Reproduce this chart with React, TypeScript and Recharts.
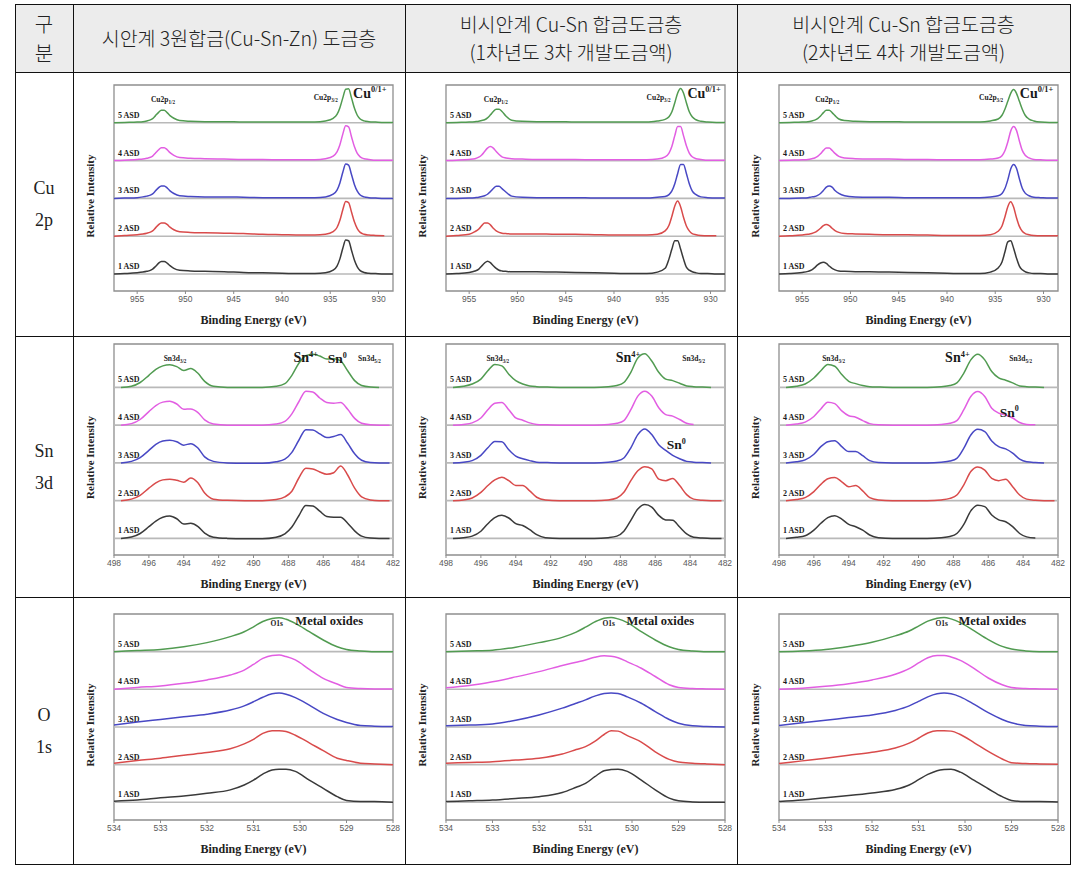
import React from 'react';
import { LineChart, Line, XAxis, YAxis, ReferenceLine, ReferenceArea, ReferenceDot } from 'recharts';

// ---------------- table text ----------------
const cornerLabel = ['구', '분'];
const columnHeaders = [
  ['시안계 3원합금(Cu-Sn-Zn) 도금층'],
  ['비시안계 Cu-Sn 합금도금층', '(1차년도 3차 개발도금액)'],
  ['비시안계 Cu-Sn 합금도금층', '(2차년도 4차 개발도금액)'],
];
const rowLabels = [['Cu', '2p'], ['Sn', '3d'], ['O', '1s']];

// ---------------- series labels ----------------
const asdLabels = ['1 ASD', '2 ASD', '3 ASD', '4 ASD', '5 ASD'];
const asdColors = ['#3a3a3a', '#d94b4b', '#4848c4', '#e25ee2', '#519b51'];

// ---------------- Cu 2p ----------------
const cuEnergy = [957.4, 956.3, 955.0, 954.4, 954.0, 953.7, 953.4, 953.1, 952.8, 952.5, 952.2, 951.9, 951.6, 951.2, 950.6, 949.5, 948, 946, 944, 942, 940, 938, 936.6, 935.5, 934.7, 934.3, 934.0, 933.7, 933.4, 933.1, 932.8, 932.5, 932.2, 931.9, 931.5, 931.0, 930.3, 929.4, 928.5];
const cuTicks = [955, 950, 945, 940, 935, 930];
const cuDomain = [928.5, 957.4];

const cuTernary = [
  [0, 0.01, 0.03, 0.05, 0.07, 0.09, 0.13, 0.2, 0.28, 0.33, 0.33, 0.29, 0.22, 0.15, 0.1, 0.08, 0.07, 0.06, 0.04, 0.03, 0.02, 0.01, 0.01, 0.03, 0.1, 0.21, 0.4, 0.68, 0.9, 0.88, 0.63, 0.37, 0.19, 0.09, 0.04, 0.02, 0.01, 0.0, 0.0],
  [0, 0.02, 0.04, 0.06, 0.08, 0.1, 0.14, 0.22, 0.3, 0.35, 0.35, 0.31, 0.24, 0.17, 0.12, 0.1, 0.09, 0.08, 0.07, 0.05, 0.04, 0.03, 0.03, 0.05, 0.12, 0.23, 0.42, 0.7, 0.92, 0.89, 0.64, 0.38, 0.2, 0.1, 0.05, 0.03, 0.02, 0.01, null],
  [0, 0.01, 0.02, 0.04, 0.06, 0.08, 0.12, 0.2, 0.28, 0.33, 0.33, 0.28, 0.2, 0.13, 0.07, 0.05, 0.04, 0.04, 0.03, 0.02, 0.02, 0.02, 0.02, 0.04, 0.11, 0.22, 0.41, 0.69, 0.91, 0.88, 0.63, 0.37, 0.19, 0.09, 0.04, 0.02, 0.01, 0.0, 0.0],
  [0, 0.01, 0.03, 0.04, 0.06, 0.08, 0.12, 0.2, 0.28, 0.34, 0.34, 0.29, 0.21, 0.14, 0.08, 0.06, 0.05, 0.04, 0.03, 0.03, 0.02, 0.02, 0.02, 0.05, 0.12, 0.23, 0.42, 0.7, 0.92, 0.89, 0.63, 0.37, 0.19, 0.1, 0.05, 0.03, 0.01, 0.01, 0.01],
  [0, 0.01, 0.02, 0.03, 0.05, 0.07, 0.11, 0.19, 0.27, 0.33, 0.33, 0.27, 0.19, 0.12, 0.06, 0.04, 0.03, 0.03, 0.02, 0.02, 0.02, 0.02, 0.02, 0.05, 0.12, 0.22, 0.4, 0.66, 0.89, 0.9, 0.66, 0.39, 0.2, 0.1, 0.05, 0.03, 0.02, 0.01, 0.01],
];
const cuNonCyanide1 = [
  [0, 0.01, 0.04, 0.08, 0.13, 0.21, 0.29, 0.34, 0.3, 0.22, 0.15, 0.1, 0.08, 0.07, 0.06, 0.06, 0.06, 0.05, 0.04, 0.03, 0.02, 0.01, 0.01, 0.05, 0.15, 0.4, 0.66, 0.88, 0.88, 0.66, 0.4, 0.18, 0.1, 0.06, 0.03, 0.01, 0.01, 0.0, 0.0],
  [0, 0.02, 0.05, 0.12, 0.19, 0.28, 0.35, 0.35, 0.3, 0.21, 0.14, 0.1, 0.08, 0.07, 0.06, 0.06, 0.06, 0.05, 0.05, 0.04, 0.03, 0.03, 0.03, 0.05, 0.14, 0.29, 0.53, 0.8, 0.93, 0.78, 0.5, 0.27, 0.14, 0.07, 0.04, 0.02, 0.01, 0.01, null],
  [0, 0.0, 0.01, 0.02, 0.03, 0.05, 0.07, 0.11, 0.18, 0.26, 0.32, 0.32, 0.26, 0.17, 0.06, 0.03, 0.02, 0.02, 0.02, 0.01, 0.01, 0.01, 0.01, 0.03, 0.05, 0.1, 0.2, 0.39, 0.66, 0.9, 0.9, 0.66, 0.39, 0.2, 0.1, 0.04, 0.02, 0.01, 0.01],
  [0, 0.01, 0.03, 0.05, 0.09, 0.15, 0.24, 0.33, 0.37, 0.33, 0.24, 0.16, 0.1, 0.07, 0.05, 0.04, 0.03, 0.03, 0.03, 0.02, 0.02, 0.02, 0.02, 0.04, 0.1, 0.2, 0.38, 0.66, 0.9, 0.9, 0.66, 0.39, 0.2, 0.1, 0.05, 0.03, 0.01, 0.01, 0.01],
  [0, 0.01, 0.02, 0.03, 0.04, 0.06, 0.08, 0.13, 0.21, 0.3, 0.36, 0.36, 0.3, 0.18, 0.07, 0.04, 0.03, 0.03, 0.02, 0.02, 0.02, 0.02, 0.02, 0.05, 0.09, 0.16, 0.29, 0.53, 0.79, 0.91, 0.79, 0.53, 0.29, 0.16, 0.08, 0.04, 0.02, 0.01, 0.01],
];
const cuNonCyanide2 = [
  [0, 0.01, 0.04, 0.07, 0.11, 0.17, 0.24, 0.29, 0.31, 0.28, 0.21, 0.15, 0.11, 0.08, 0.07, 0.06, 0.06, 0.05, 0.04, 0.03, 0.02, 0.01, 0.01, 0.05, 0.16, 0.32, 0.58, 0.85, 0.88, 0.68, 0.42, 0.21, 0.11, 0.06, 0.03, 0.01, 0.01, 0.0, 0.0],
  [0, 0.01, 0.03, 0.05, 0.07, 0.1, 0.15, 0.21, 0.28, 0.31, 0.28, 0.21, 0.15, 0.1, 0.07, 0.06, 0.05, 0.04, 0.04, 0.03, 0.02, 0.02, 0.02, 0.04, 0.13, 0.27, 0.51, 0.78, 0.91, 0.77, 0.49, 0.26, 0.13, 0.07, 0.04, 0.02, 0.01, 0.01, 0.01],
  [0, 0.0, 0.01, 0.02, 0.04, 0.05, 0.08, 0.13, 0.21, 0.3, 0.33, 0.3, 0.21, 0.13, 0.07, 0.04, 0.03, 0.03, 0.02, 0.02, 0.02, 0.02, 0.02, 0.04, 0.07, 0.13, 0.26, 0.49, 0.78, 0.9, 0.8, 0.52, 0.27, 0.14, 0.07, 0.03, 0.02, 0.01, 0.01],
  [0, 0.01, 0.02, 0.03, 0.05, 0.07, 0.11, 0.18, 0.27, 0.33, 0.33, 0.27, 0.19, 0.11, 0.07, 0.05, 0.04, 0.04, 0.03, 0.03, 0.02, 0.02, 0.02, 0.04, 0.07, 0.13, 0.26, 0.49, 0.78, 0.9, 0.8, 0.52, 0.27, 0.14, 0.07, 0.03, 0.02, 0.01, 0.01],
  [0, 0.01, 0.02, 0.03, 0.05, 0.07, 0.11, 0.18, 0.27, 0.33, 0.33, 0.27, 0.19, 0.1, 0.06, 0.04, 0.03, 0.03, 0.02, 0.02, 0.02, 0.02, 0.02, 0.05, 0.1, 0.2, 0.36, 0.57, 0.78, 0.88, 0.78, 0.57, 0.36, 0.2, 0.1, 0.05, 0.02, 0.01, 0.01],
];

// ---------------- Sn 3d ----------------
const snEnergy = [497.6, 497, 496.5, 496, 495.6, 495.2, 494.8, 494.4, 494.0, 493.6, 493.2, 492.8, 492.3, 491.5, 490.5, 489.5, 488.7, 488.2, 487.8, 487.4, 487.0, 486.6, 486.2, 485.8, 485.4, 485.0, 484.6, 484.2, 483.8, 483.3, 482.8, 482.2];
const snTicks = [498, 496, 494, 492, 490, 488, 486, 484, 482];
const snDomain = [482, 498];

const snTernary = [
  [0, 0.035, 0.13, 0.31, 0.46, 0.56, 0.59, 0.52, 0.38, 0.4, 0.32, 0.14, 0.03, 0, -0.01, -0.01, 0.03, 0.12, 0.3, 0.6, 0.87, 0.86, 0.72, 0.58, 0.56, 0.56, 0.4, 0.2, 0.06, 0.01, 0, 0],
  [0, 0.04, 0.14, 0.33, 0.47, 0.55, 0.57, 0.54, 0.49, 0.6, 0.48, 0.2, 0.04, 0.01, 0, 0, 0.03, 0.1, 0.25, 0.6, 0.86, 0.84, 0.76, 0.7, 0.74, 0.92, 0.68, 0.33, 0.1, 0.02, 0, 0],
  [0, 0.04, 0.14, 0.33, 0.49, 0.58, 0.6, 0.56, 0.47, 0.51, 0.4, 0.16, 0.04, 0, -0.01, -0.01, 0.03, 0.1, 0.28, 0.6, 0.88, 0.87, 0.77, 0.67, 0.7, 0.75, 0.52, 0.24, 0.07, 0.01, 0, 0],
  [0, 0.04, 0.15, 0.36, 0.52, 0.61, 0.63, 0.56, 0.42, 0.43, 0.34, 0.14, 0.03, 0, 0, 0, 0.03, 0.1, 0.3, 0.62, 0.9, 0.88, 0.72, 0.6, 0.58, 0.6, 0.42, 0.18, 0.05, 0.01, 0, 0],
  [0, 0.03, 0.13, 0.32, 0.48, 0.57, 0.6, 0.55, 0.45, 0.5, 0.38, 0.16, 0.03, 0, 0, 0, 0.03, 0.1, 0.32, 0.64, 0.84, 0.88, 0.83, 0.75, 0.76, 0.7, 0.44, 0.18, 0.05, 0.01, 0, null],
];
const snNonCyanide1 = [
  [0, 0.02, 0.06, 0.19, 0.39, 0.55, 0.61, 0.54, 0.39, 0.34, 0.23, 0.1, 0.02, 0, 0, 0, 0.02, 0.06, 0.19, 0.48, 0.78, 0.9, 0.83, 0.61, 0.49, 0.48, 0.3, 0.12, 0.03, 0.01, 0, 0],
  [0, 0.02, 0.07, 0.22, 0.4, 0.55, 0.62, 0.53, 0.4, 0.4, 0.26, 0.09, 0.02, 0, 0, 0, 0.02, 0.07, 0.22, 0.53, 0.79, 0.9, 0.84, 0.57, 0.53, 0.59, 0.4, 0.16, 0.04, 0.01, 0, 0],
  [0, 0.02, 0.06, 0.2, 0.4, 0.57, 0.56, 0.35, 0.18, 0.11, 0.06, 0.02, 0.01, 0, 0, 0, 0.02, 0.05, 0.13, 0.4, 0.75, 0.9, 0.75, 0.48, 0.33, 0.2, 0.11, 0.04, 0.02, 0.01, 0, null],
  [0, 0.02, 0.06, 0.19, 0.41, 0.58, 0.6, 0.41, 0.19, 0.13, 0.06, 0.02, 0.01, 0, 0, 0, 0.02, 0.05, 0.12, 0.41, 0.77, 0.9, 0.77, 0.46, 0.28, 0.24, 0.15, 0.05, 0.02, null, null, null],
  [0, 0.03, 0.09, 0.22, 0.44, 0.61, 0.57, 0.35, 0.18, 0.09, 0.04, 0.02, 0.01, 0, 0, 0, 0.02, 0.05, 0.13, 0.4, 0.78, 0.89, 0.7, 0.4, 0.22, 0.18, 0.11, 0.04, 0.02, 0.01, 0, null],
];
const snNonCyanide2 = [
  [0, 0.03, 0.07, 0.22, 0.4, 0.55, 0.6, 0.51, 0.37, 0.31, 0.22, 0.09, 0.02, 0, 0, 0, 0.02, 0.05, 0.13, 0.37, 0.73, 0.88, 0.84, 0.62, 0.49, 0.44, 0.31, 0.13, 0.04, 0.01, null, null],
  [0, 0.03, 0.08, 0.24, 0.43, 0.58, 0.61, 0.5, 0.37, 0.4, 0.26, 0.08, 0.02, 0, 0, 0, 0.02, 0.06, 0.15, 0.42, 0.77, 0.89, 0.81, 0.59, 0.53, 0.57, 0.37, 0.15, 0.04, 0.01, 0, 0],
  [0, 0.03, 0.08, 0.23, 0.43, 0.56, 0.59, 0.43, 0.3, 0.3, 0.19, 0.06, 0.01, 0, 0, 0, 0.02, 0.05, 0.12, 0.39, 0.74, 0.89, 0.83, 0.58, 0.43, 0.37, 0.26, 0.1, 0.03, 0.01, 0, null],
  [0, 0.03, 0.08, 0.23, 0.43, 0.61, 0.57, 0.38, 0.25, 0.21, 0.12, 0.04, 0.01, 0, 0, 0, 0.02, 0.05, 0.12, 0.41, 0.76, 0.89, 0.76, 0.45, 0.32, 0.27, 0.19, 0.07, 0.02, 0.01, null, null],
  [0, 0.03, 0.09, 0.25, 0.44, 0.61, 0.56, 0.34, 0.16, 0.1, 0.05, 0.02, 0.01, 0, 0, 0, 0.02, 0.05, 0.12, 0.38, 0.73, 0.88, 0.73, 0.42, 0.25, 0.19, 0.12, 0.04, 0.02, 0.01, 0, null],
];

// ---------------- O 1s ----------------
const oEnergy = [534, 533.5, 533, 532.5, 532, 531.5, 531.2, 531, 530.8, 530.6, 530.45, 530.3, 530.1, 529.8, 529.5, 529.2, 529, 528.7, 528.4, 528];
const oTicks = [534, 533, 532, 531, 530, 529, 528];
const oDomain = [528, 534];

const oTernary = [
  [0.03, 0.06, 0.12, 0.17, 0.24, 0.33, 0.46, 0.59, 0.75, 0.86, 0.88, 0.88, 0.82, 0.59, 0.37, 0.15, 0.05, 0.02, 0.02, 0],
  [0.04, 0.11, 0.17, 0.25, 0.32, 0.42, 0.55, 0.67, 0.83, 0.9, 0.9, 0.88, 0.78, 0.58, 0.37, 0.17, 0.11, 0.04, 0.02, 0],
  [0.05, 0.13, 0.2, 0.27, 0.34, 0.45, 0.56, 0.67, 0.79, 0.88, 0.9, 0.87, 0.78, 0.58, 0.36, 0.2, 0.12, 0.04, 0.02, 0.01],
  [0, 0.05, 0.09, 0.16, 0.25, 0.38, 0.51, 0.66, 0.82, 0.9, 0.91, 0.87, 0.78, 0.53, 0.29, 0.14, 0.05, 0.02, 0.01, 0.01],
  [0, 0.03, 0.06, 0.13, 0.24, 0.4, 0.53, 0.66, 0.8, 0.88, 0.9, 0.86, 0.75, 0.53, 0.31, 0.13, 0.06, 0.02, 0, 0],
];
const oNonCyanide1 = [
  [0.02, 0.04, 0.06, 0.1, 0.15, 0.26, 0.4, 0.5, 0.68, 0.84, 0.87, 0.88, 0.82, 0.59, 0.33, 0.11, 0.04, 0.01, 0, 0],
  [0.04, 0.06, 0.08, 0.12, 0.17, 0.28, 0.4, 0.48, 0.62, 0.8, 0.9, 0.89, 0.77, 0.6, 0.34, 0.14, 0.07, 0.04, 0.02, 0],
  [0.03, 0.05, 0.08, 0.18, 0.32, 0.5, 0.63, 0.72, 0.82, 0.89, 0.9, 0.89, 0.8, 0.63, 0.41, 0.2, 0.1, 0.03, 0.01, 0],
  [0.04, 0.1, 0.2, 0.33, 0.47, 0.63, 0.72, 0.78, 0.85, 0.89, 0.88, 0.84, 0.73, 0.56, 0.34, 0.12, 0.05, 0.02, 0.01, 0],
  [0, 0.02, 0.04, 0.12, 0.24, 0.38, 0.52, 0.65, 0.79, 0.89, 0.91, 0.87, 0.77, 0.53, 0.31, 0.13, 0.06, 0.02, 0, 0],
];
const oNonCyanide2 = [
  [0.02, 0.06, 0.12, 0.18, 0.25, 0.34, 0.46, 0.6, 0.74, 0.84, 0.87, 0.88, 0.8, 0.58, 0.36, 0.15, 0.05, 0.02, 0.02, 0.01],
  [0.03, 0.1, 0.17, 0.25, 0.33, 0.44, 0.57, 0.7, 0.84, 0.9, 0.9, 0.89, 0.8, 0.58, 0.35, 0.15, 0.05, 0.03, 0.02, 0.01],
  [0.04, 0.11, 0.18, 0.25, 0.32, 0.44, 0.56, 0.68, 0.8, 0.88, 0.9, 0.88, 0.8, 0.6, 0.38, 0.2, 0.11, 0.04, 0.02, 0.01],
  [0, 0.03, 0.08, 0.15, 0.25, 0.4, 0.55, 0.7, 0.84, 0.9, 0.9, 0.86, 0.77, 0.55, 0.3, 0.12, 0.05, 0.02, 0.01, 0],
  [0, 0.02, 0.06, 0.14, 0.25, 0.42, 0.55, 0.68, 0.81, 0.89, 0.91, 0.87, 0.77, 0.55, 0.32, 0.14, 0.07, 0.02, 0, 0],
];

// ---------------- annotations (data coordinates) ----------------
const cuNotes = [
  [952.33, 935.47, 932.64],
  [952.24, 935.38, 932.39],
  [952.41, 935.43, 932.45],
];
const snNotes = [
  { d32: 494.5, s4: 487.0, d52: 483.35, s0: 485.2, s0y: 4.64 },
  { d32: 495.03, s4: 487.56, d52: 483.8, s0: 484.8, s0y: 2.36 },
  { d32: 494.87, s4: 487.77, d52: 484.14, s0: 484.8, s0y: 3.22 },
];
const oNotes = [
  [530.5, 530.1],
  [530.5, 530.12],
  [530.5, 530.14],
];

// ---------------- rendering ----------------
const serif = "'Liberation Serif', 'Times New Roman', serif";
const tableFont = "'Noto Sans CJK KR', 'Liberation Sans', sans-serif";

type Note = { e: number; y: number; text: string; sub?: string; sup?: string; size: number; anchor?: string };

function renderNote(p: any, n: Note) {
  return (
    <text x={p.cx} y={p.cy} textAnchor={n.anchor || 'middle'} fontFamily={serif} fontWeight="bold" fontSize={n.size} fill="#1a1a1a">
      {n.text}
      {n.sub ? <tspan fontSize={n.size * 0.68} dy={n.size * 0.28}>{n.sub}</tspan> : null}
      {n.sup ? <tspan fontSize={n.size * 0.6} dy={-n.size * 0.42}>{n.sup}</tspan> : null}
    </text>
  );
}

const xTitle = (props: any) => {
  const vb = props.viewBox || { x: 0, y: 0, width: 0, height: 0 };
  return (
    <text x={vb.x + vb.width / 2} y={vb.y + 28.5} textAnchor="middle" dominantBaseline="central" fontFamily={serif} fontWeight="bold" fontSize={12} fill="#222">
      Binding Energy (eV)
    </text>
  );
};

const yTitle = (props: any) => {
  const vb = props.viewBox || { x: 0, y: 0, width: 0, height: 0 };
  const x = vb.x + vb.width - 24;
  const y = vb.y + vb.height / 2 + 8;
  return (
    <text x={x} y={y} transform={`rotate(-90 ${x} ${y})`} textAnchor="middle" dominantBaseline="central" fontFamily={serif} fontWeight="bold" fontSize={11} fill="#222">
      Relative Intensity
    </text>
  );
};

const asdLabel = (name: string) => (props: any) => {
  const vb = props.viewBox || { x: 0, y: 0 };
  return (
    <text x={vb.x + 4} y={vb.y - 5} fontFamily={serif} fontWeight="bold" fontSize={8} fill="#1a1a1a">
      {name}
    </text>
  );
};

function Spectrum(props: any) {
  const { left, top, plotH, energies, series, domain, ticks, yDomain, notes } = props;
  const W = 333;
  const H = 10 + plotH + 18 + 24;
  const rows = energies.map((e: number, i: number) => {
    const row: any = { e };
    series.forEach((s: (number | null)[], k: number) => {
      const v = s[i];
      row['s' + k] = v == null ? null : v + k;
    });
    return row;
  });
  return (
    <div style={{ position: 'absolute', left, top, width: W, height: H }}>
      <LineChart width={W} height={H} data={rows} margin={{ top: 10, right: 10, bottom: 24, left: 0 }}>
        <XAxis
          type="number"
          dataKey="e"
          domain={domain}
          reversed
          ticks={ticks}
          interval={0}
          allowDataOverflow
          height={18}
          tickSize={3}
          axisLine={false}
          tickLine={{ stroke: '#8a8a8a' }}
          tick={{ fontSize: 8.5, fill: '#5a5a5a', fontFamily: "'Liberation Sans', Arial, sans-serif" }}
          label={xTitle}
        />
        <YAxis type="number" domain={yDomain} allowDataOverflow width={44} tick={false} tickLine={false} axisLine={false} label={yTitle} />
        <ReferenceArea x1={domain[0]} x2={domain[1]} y1={yDomain[0]} y2={yDomain[1]} fill="none" fillOpacity={0} stroke="#8f8f8f" strokeWidth={1.3} ifOverflow="visible" />
        {series.map((_: any, k: number) => (
          <ReferenceLine key={'b' + k} y={k} stroke="#b9b9b9" strokeWidth={1.6} label={asdLabel(asdLabels[k])} />
        ))}
        {series.map((_: any, k: number) => (
          <Line
            key={'s' + k}
            dataKey={'s' + k}
            stroke={asdColors[k]}
            strokeWidth={1.5}
            dot={false}
            activeDot={false}
            type="monotone"
            connectNulls={false}
            isAnimationActive={false}
          />
        ))}
        {notes.map((n: Note, i: number) => (
          <ReferenceDot key={'n' + i} x={n.e} y={n.y} r={0} ifOverflow="visible" shape={(p: any) => renderNote(p, n)} />
        ))}
      </LineChart>
    </div>
  );
}

const plotLefts = [114, 446, 779];
const rowPlotTops = [85, 344, 614];
const rowPlotHeights = [206, 211, 206];

export default function App() {
  const cuSets = [cuTernary, cuNonCyanide1, cuNonCyanide2];
  const snSets = [snTernary, snNonCyanide1, snNonCyanide2];
  const oSets = [oTernary, oNonCyanide1, oNonCyanide2];

  const panels: any[] = [];
  for (let c = 0; c < 3; c++) {
    const cn = cuNotes[c];
    panels.push({
      key: 'cu' + c, row: 0, col: c, energies: cuEnergy, series: cuSets[c], domain: cuDomain, ticks: cuTicks, yDomain: [-0.45, 5.0],
      notes: [
        { e: cn[0], y: 4.56, text: 'Cu2p', sub: '1/2', size: 7.5 },
        { e: cn[1], y: 4.6, text: 'Cu2p', sub: '3/2', size: 7.5 },
        { e: cn[2], y: 4.66, text: 'Cu', sup: '0/1+', size: 14, anchor: 'start' },
      ],
    });
    const sn = snNotes[c];
    panels.push({
      key: 'sn' + c, row: 1, col: c, energies: snEnergy, series: snSets[c], domain: snDomain, ticks: snTicks, yDomain: [-0.44, 5.15],
      notes: [
        { e: sn.d32, y: 4.71, text: 'Sn3d', sub: '3/2', size: 7.5 },
        { e: sn.s4, y: 4.66, text: 'Sn', sup: '4+', size: 14 },
        { e: sn.d52, y: 4.71, text: 'Sn3d', sub: '5/2', size: 7.5 },
        { e: sn.s0, y: sn.s0y, text: 'Sn', sup: '0', size: 13.5 },
      ],
    });
    const on = oNotes[c];
    panels.push({
      key: 'o' + c, row: 2, col: c, energies: oEnergy, series: oSets[c], domain: oDomain, ticks: oTicks, yDomain: [-0.47, 5.0],
      notes: [
        { e: on[0], y: 4.68, text: 'O1s', size: 7.5 },
        { e: on[1], y: 4.7, text: 'Metal oxides', size: 12.5, anchor: 'start' },
      ],
    });
  }

  const xs = [15, 73, 405, 737, 1070];
  const ys = [4, 72, 336, 597, 864];

  return (
    <div style={{ position: 'absolute', left: 0, top: 0, width: 1088, height: 870, background: '#fff', overflow: 'hidden' }}>
      {/* header background */}
      <div style={{ position: 'absolute', left: xs[0], top: ys[0], width: xs[4] - xs[0], height: ys[1] - ys[0], background: '#ececec' }} />

      {/* corner */}
      <div style={{ position: 'absolute', left: xs[0], top: ys[0], width: xs[1] - xs[0], height: ys[1] - ys[0], display: 'flex', flexDirection: 'column', justifyContent: 'center', alignItems: 'center', fontFamily: tableFont, fontSize: 20, lineHeight: '29px', color: '#222', fontWeight: 300 }}>
        {cornerLabel.map((t) => <div key={t}>{t}</div>)}
      </div>

      {/* column headers */}
      {columnHeaders.map((lines, c) => (
        <div key={'h' + c} style={{ position: 'absolute', left: xs[c + 1], top: ys[0], width: xs[c + 2] - xs[c + 1], height: ys[1] - ys[0], display: 'flex', flexDirection: 'column', justifyContent: 'center', alignItems: 'center', fontFamily: tableFont, fontSize: 19.5, lineHeight: '28px', color: '#222', fontWeight: 300, whiteSpace: 'nowrap' }}>
          {lines.map((t, i) => <div key={i}>{t}</div>)}
        </div>
      ))}

      {/* row labels */}
      {rowLabels.map((lines, r) => (
        <div key={'r' + r} style={{ position: 'absolute', left: xs[0], top: ys[r + 1], width: xs[1] - xs[0], height: ys[r + 2] - ys[r + 1], display: 'flex', flexDirection: 'column', justifyContent: 'center', alignItems: 'center', fontFamily: serif, fontSize: 18, lineHeight: '32px', color: '#222' }}>
          {lines.map((t, i) => <div key={i}>{t}</div>)}
        </div>
      ))}

      {/* charts */}
      {panels.map((p) => (
        <Spectrum
          key={p.key}
          left={plotLefts[p.col] - 44}
          top={rowPlotTops[p.row] - 10}
          plotH={rowPlotHeights[p.row]}
          energies={p.energies}
          series={p.series}
          domain={p.domain}
          ticks={p.ticks}
          yDomain={p.yDomain}
          notes={p.notes}
        />
      ))}

      {/* table rules */}
      {ys.map((y, i) => (
        <div key={'hy' + i} style={{ position: 'absolute', left: xs[0], top: y, width: xs[4] - xs[0] + 1, height: 1, background: '#111' }} />
      ))}
      {xs.map((x, i) => (
        <div key={'vx' + i} style={{ position: 'absolute', left: x, top: ys[0], width: 1, height: ys[4] - ys[0] + 1, background: '#111' }} />
      ))}
    </div>
  );
}
